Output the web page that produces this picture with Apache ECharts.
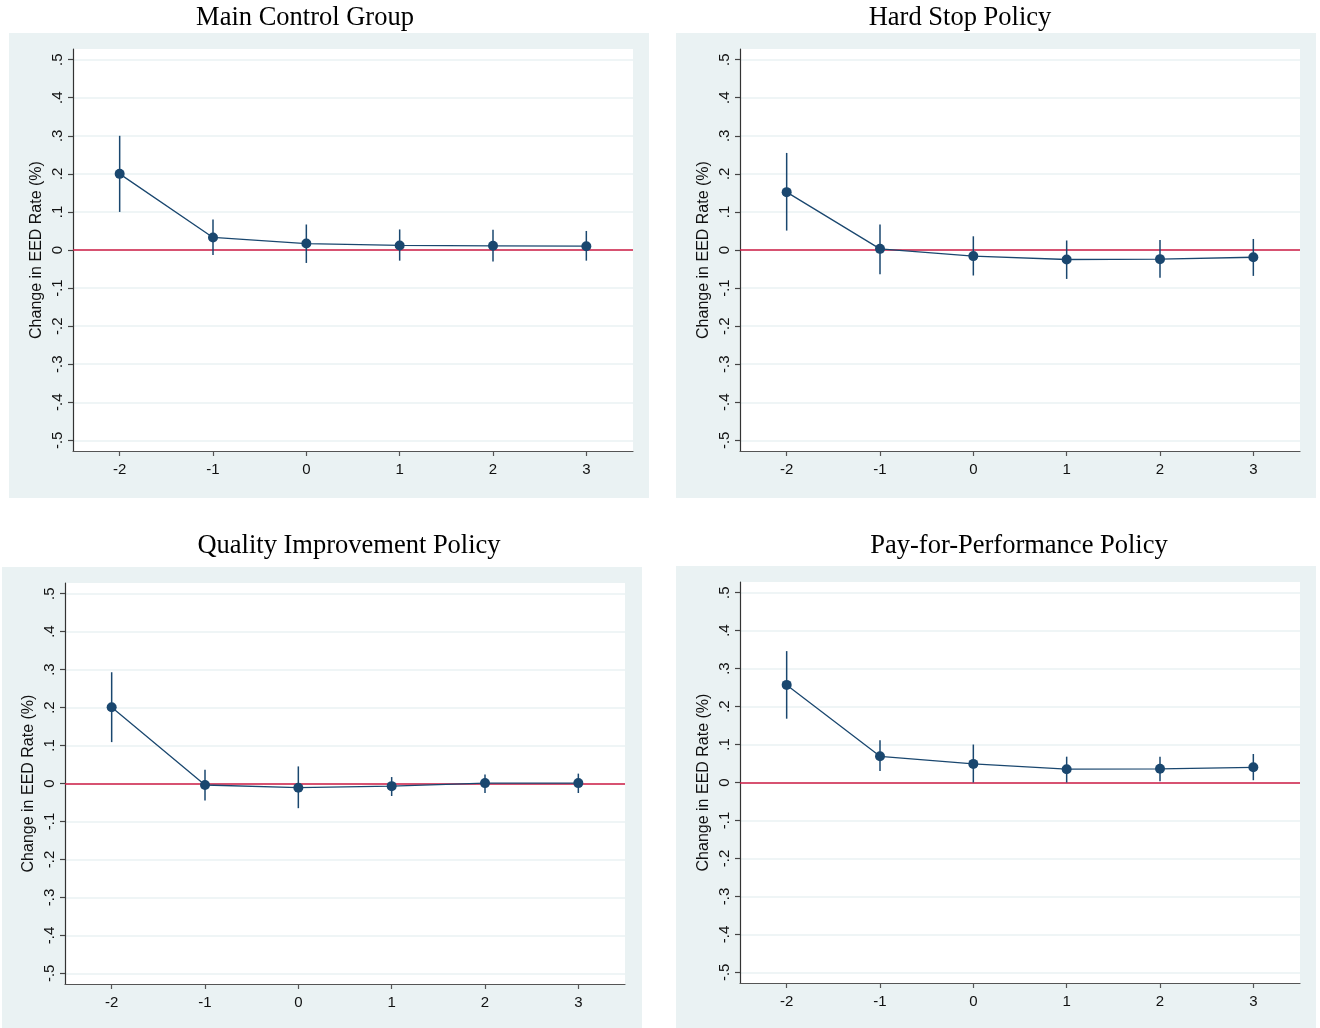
<!DOCTYPE html>
<html>
<head>
<meta charset="utf-8">
<title>Event-study estimates of EED rate change</title>
<script src="https://cdn.jsdelivr.net/npm/echarts@6/dist/echarts.min.js"></script>
<style>
  html, body { margin: 0; padding: 0; background: #ffffff; }
  #chart { width: 1320px; height: 1028px; }
</style>
</head>
<body>
<div id="chart"></div>
<script>
// Event time relative to policy adoption
const periods = ['-2', '-1', '0', '1', '2', '3'];
// Y-axis tick values
const yTickValues = [-0.5, -0.4, -0.3, -0.2, -0.1, 0, 0.1, 0.2, 0.3, 0.4, 0.5];

// Panel titles
const panelTitles = ['Main Control Group', 'Hard Stop Policy', 'Quality Improvement Policy', 'Pay-for-Performance Policy'];

// Main control group: point estimates and 95% CI bounds
const mainEst = [0.200, 0.033, 0.017, 0.012, 0.011, 0.010];
const mainLo  = [0.100, -0.013, -0.034, -0.028, -0.030, -0.028];
const mainHi  = [0.300, 0.080, 0.067, 0.054, 0.053, 0.050];

// Hard stop policy
const hardEst = [0.152, 0.003, -0.016, -0.025, -0.024, -0.019];
const hardLo  = [0.051, -0.064, -0.067, -0.076, -0.073, -0.068];
const hardHi  = [0.255, 0.067, 0.036, 0.025, 0.026, 0.029];

// Quality improvement policy
const qualEst = [0.201, -0.004, -0.011, -0.007, 0.001, 0.001];
const qualLo  = [0.109, -0.045, -0.065, -0.033, -0.025, -0.025];
const qualHi  = [0.293, 0.036, 0.045, 0.017, 0.024, 0.026];

// Pay-for-performance policy
const p4pEst = [0.257, 0.069, 0.049, 0.035, 0.036, 0.040];
const p4pLo  = [0.168, 0.030, 0.000, 0.000, 0.003, 0.006];
const p4pHi  = [0.346, 0.111, 0.100, 0.068, 0.068, 0.075];

const panels = [
  { est: mainEst, lo: mainLo, hi: mainHi },
  { est: hardEst, lo: hardLo, hi: hardHi },
  { est: qualEst, lo: qualLo, hi: qualHi },
  { est: p4pEst, lo: p4pLo, hi: p4pHi }
];

// Layout of the four panels (outer frame, plot area, title anchor)
const layout = [
  { frame: [9, 33, 640, 465],   grid: [73, 49, 560, 402],  title: [305, 18] },
  { frame: [676, 33, 640, 465], grid: [740, 49, 560, 402], title: [960, 18] },
  { frame: [2, 567, 640, 470],  grid: [65, 583, 560, 401], title: [349, 546] },
  { frame: [676, 566, 640, 470], grid: [740, 582, 560, 401], title: [1019, 546] }
];

const NAVY = '#1A476F';
const FRAME = '#EAF2F3';
const ZERO_RED = '#CF1B45';
const Y_MIN = -0.528, Y_MAX = 0.528;

function tickText(v) {
  if (Math.abs(v) < 1e-9) return '0';
  const s = Math.abs(v).toFixed(1).replace(/^0/, '');
  return (v < 0 ? '-' : '') + s;
}

const grids = [], xAxes = [], yAxes = [], series = [], graphics = [];

layout.forEach((L, i) => {
  graphics.push({
    type: 'rect', z: -10,
    shape: { x: L.frame[0], y: L.frame[1], width: L.frame[2], height: L.frame[3] },
    style: { fill: FRAME }
  });
  graphics.push({
    type: 'text', z: 10,
    x: L.title[0], y: L.title[1],
    style: {
      text: panelTitles[i],
      font: '26.5px "Liberation Serif", "Times New Roman", serif',
      fill: '#000',
      textAlign: 'center',
      textVerticalAlign: 'middle'
    }
  });

  grids.push({
    left: L.grid[0], top: L.grid[1], width: L.grid[2], height: L.grid[3],
    show: true, backgroundColor: '#ffffff', borderWidth: 0
  });

  xAxes.push({
    type: 'category', gridIndex: i, data: periods, boundaryGap: true, position: 'bottom',
    axisLine: { show: true, onZero: false, lineStyle: { color: '#555', width: 1.2 } },
    axisTick: { show: true, alignWithLabel: true, length: 5, lineStyle: { color: '#555', width: 1.2 } },
    axisLabel: { margin: 11, fontSize: 15, color: '#111', fontFamily: '"Liberation Sans", Arial, sans-serif' },
    splitLine: { show: false }
  });

  yAxes.push({
    type: 'value', gridIndex: i, min: Y_MIN, max: Y_MAX,
    name: 'Change in EED Rate (%)', nameLocation: 'middle', nameRotate: 90, nameGap: 28,
    nameTextStyle: { fontSize: 16, color: '#111', fontFamily: '"Liberation Sans", Arial, sans-serif' },
    axisLine: { show: true, onZero: false, lineStyle: { color: '#333', width: 1.2 } },
    axisTick: { show: true, length: 5, customValues: yTickValues, lineStyle: { color: '#444', width: 1.2 } },
    axisLabel: {
      customValues: yTickValues, rotate: 90, margin: 8, fontSize: 15, color: '#111',
      fontFamily: '"Liberation Sans", Arial, sans-serif',
      formatter: tickText
    },
    splitLine: { show: true, lineStyle: { color: FRAME, width: 1.5 } }
  });

  const P = panels[i];

  // 95% confidence intervals as plain vertical spikes
  series.push({
    type: 'custom', xAxisIndex: i, yAxisIndex: i, z: 2,
    data: periods.map((p, k) => [k, P.lo[k], P.hi[k]]),
    renderItem: function (params, api) {
      const a = api.coord([api.value(0), api.value(1)]);
      const b = api.coord([api.value(0), api.value(2)]);
      return {
        type: 'line',
        shape: { x1: a[0], y1: a[1], x2: b[0], y2: b[1] },
        style: { stroke: NAVY, lineWidth: 1.5 }
      };
    },
    silent: true,
    markLine: {
      z: 1, silent: true, symbol: 'none', label: { show: false },
      lineStyle: { color: ZERO_RED, width: 1.5, type: 'solid' },
      data: [{ yAxis: 0 }]
    }
  });

  // Point estimates connected by a line
  series.push({
    type: 'line', xAxisIndex: i, yAxisIndex: i, z: 3,
    data: P.est,
    symbol: 'circle', symbolSize: 10, showSymbol: true,
    lineStyle: { color: NAVY, width: 1.3 },
    itemStyle: { color: NAVY },
    silent: true, animation: false
  });
});

const chart = echarts.init(document.getElementById('chart'), null, { renderer: 'canvas' });
chart.setOption({
  backgroundColor: '#ffffff',
  animation: false,
  grid: grids,
  xAxis: xAxes,
  yAxis: yAxes,
  series: series,
  graphic: { elements: graphics }
});
</script>
</body>
</html>
